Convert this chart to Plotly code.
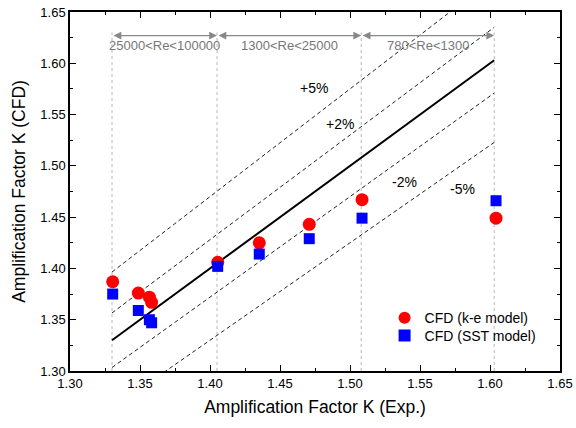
import plotly.graph_objects as go

# Data
exp_x = [1.3305, 1.3488, 1.3567, 1.3583, 1.4055, 1.4352, 1.4709, 1.5086, 1.6043]
ke_y = [1.387, 1.376, 1.372, 1.367, 1.406, 1.425, 1.443, 1.467, 1.449]
sst_y = [1.375, 1.359, 1.350, 1.347, 1.402, 1.414, 1.429, 1.449, 1.466]

line_x = [1.33, 1.603]
band_factors = [1.05, 1.02, 0.98, 0.95]
band_labels = ["+5%", "+2%", "-2%", "-5%"]
band_label_x = [1.474, 1.493, 1.539, 1.580]
band_label_y = [1.576, 1.541, 1.484, 1.477]

re_bounds = [1.33, 1.405, 1.508, 1.603]
re_labels = ["25000<Re<100000", "1300<Re<25000", "780<Re<1300"]

font_family = "Liberation Sans, Arial, sans-serif"

fig = go.Figure()

# vertical dotted lines
for xb in re_bounds:
    fig.add_trace(go.Scatter(x=[xb, xb], y=[1.30, 1.63], mode="lines",
                             line=dict(color="#b8b8b8", width=1, dash="dot"),
                             showlegend=False, hoverinfo="skip"))

# +-% bands
for f in band_factors:
    fig.add_trace(go.Scatter(x=line_x, y=[v * f for v in line_x], mode="lines",
                             line=dict(color="#222222", width=1, dash="4px,3px"),
                             showlegend=False, hoverinfo="skip"))

# y = x line
fig.add_trace(go.Scatter(x=line_x, y=line_x, mode="lines",
                         line=dict(color="black", width=2),
                         showlegend=False, hoverinfo="skip"))

fig.add_trace(go.Scatter(x=exp_x, y=ke_y, mode="markers", name="CFD (k-e model)",
                         legend="legend",
                         marker=dict(symbol="circle", size=13, color="#ff0000",
                                     line=dict(width=0))))
fig.add_trace(go.Scatter(x=exp_x, y=sst_y, mode="markers", name="CFD (SST model)",
                         legend="legend2",
                         marker=dict(symbol="square", size=11, color="#0000ff",
                                     line=dict(width=0))))

annotations = []
for lbl, lx, ly in zip(band_labels, band_label_x, band_label_y):
    annotations.append(dict(x=lx, y=ly, xref="x", yref="y", text=lbl, showarrow=False,
                            font=dict(size=14, color="black", family=font_family)))

arrow_y = 1.627
for i, lbl in enumerate(re_labels):
    x0, x1 = re_bounds[i], re_bounds[i + 1]
    annotations.append(dict(x=x1, y=arrow_y, ax=x0, ay=arrow_y, xref="x", yref="y",
                            axref="x", ayref="y", text="", showarrow=True,
                            arrowhead=2, startarrowhead=2, arrowside="end+start",
                            arrowsize=1.3, arrowwidth=1.2, arrowcolor="#888888"))
    annotations.append(dict(x=(x0 + x1) / 2, y=1.617, xref="x", yref="y", text=lbl,
                            showarrow=False,
                            font=dict(size=13, color="#777777", family=font_family)))

axis_common = dict(range=[1.30, 1.65], dtick=0.05, tickformat=".2f",
                   ticks="inside", ticklen=6, tickwidth=1.3, tickcolor="black",
                   minor=dict(ticks="inside", ticklen=3, tickwidth=1.3,
                              tickcolor="black", dtick=0.025),
                   showline=True, linecolor="black", linewidth=1.5, mirror="ticks",
                   showgrid=False, zeroline=False, automargin=False,
                   ticklabeloverflow="allow",
                   tickfont=dict(size=13, color="black", family=font_family))

legend_common = dict(xanchor="left", yanchor="top", bgcolor="rgba(0,0,0,0)",
                     borderwidth=0, font=dict(size=14, family=font_family),
                     itemsizing="constant")

fig.update_layout(
    width=576, height=428,
    margin=dict(l=70, r=16, t=12, b=57, autoexpand=False),
    plot_bgcolor="white", paper_bgcolor="white",
    font=dict(family=font_family, color="black"),
    xaxis=dict(title=dict(text="Amplification Factor K (Exp.)",
                          font=dict(size=17.5, family=font_family), standoff=10),
               **axis_common),
    yaxis=dict(title=dict(text="Amplification Factor K (CFD)",
                          font=dict(size=17.5, family=font_family), standoff=10),
               **axis_common),
    legend=dict(x=0.642, y=0.192, **legend_common),
    legend2=dict(x=0.642, y=0.142, **legend_common),
    annotations=annotations,
    showlegend=True,
)

fig.write_html("out.html",
               config={"displayModeBar": False},
               post_script="document.body.style.margin='0px';"
                           "document.body.style.overflow='hidden';")
